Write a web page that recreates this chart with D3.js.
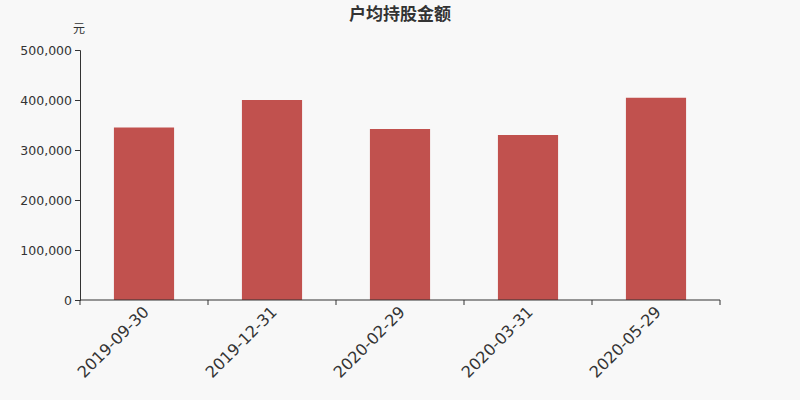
<!DOCTYPE html>
<html>
<head>
<meta charset="utf-8">
<script src="https://cdn.jsdelivr.net/npm/d3@7"></script>
<style>
  body { margin: 0; background: #f8f8f8; }
  svg { display: block; }
</style>
</head>
<body>
<div id="chart"></div>
<script>
const dates = ['2019-09-30', '2019-12-31', '2020-02-29', '2020-03-31', '2020-05-29'];
const amounts = [345000, 400000, 342000, 330000, 404500];
const yTicks = [0, 100000, 200000, 300000, 400000, 500000];

const width = 800;
const height = 400;
const margin = { left: 80, right: 80, top: 50, bottom: 100 };
const fontFamily = '"DejaVu Sans", "Noto Sans CJK SC", sans-serif';

const svg = d3.select('#chart')
  .append('svg')
  .attr('width', width)
  .attr('height', height)
  .style('background', '#f8f8f8')
  .attr('font-family', fontFamily);

const x = d3.scaleBand()
  .domain(dates)
  .range([margin.left, width - margin.right])
  .paddingInner(0.53)
  .paddingOuter(0.265);

const y = d3.scaleLinear()
  .domain([0, 500000])
  .range([height - margin.bottom, margin.top]);

// title
svg.append('text')
  .attr('x', width / 2)
  .attr('y', 20)
  .attr('text-anchor', 'middle')
  .attr('font-size', 17)
  .attr('font-weight', 'bold')
  .attr('fill', '#333')
  .text('户均持股金额');

// unit
svg.append('text')
  .attr('x', 79)
  .attr('y', 33)
  .attr('text-anchor', 'middle')
  .attr('font-size', 12)
  .attr('fill', '#333')
  .text('元');

// bars
svg.append('g')
  .selectAll('rect')
  .data(dates)
  .join('rect')
    .attr('x', d => x(d))
    .attr('width', x.bandwidth())
    .attr('y', (d, i) => y(amounts[i]))
    .attr('height', (d, i) => y(0) - y(amounts[i]))
    .attr('fill', '#c1514e');

// y axis
const yAxis = svg.append('g')
  .attr('transform', `translate(${margin.left},0)`)
  .call(d3.axisLeft(y).tickValues(yTicks).tickFormat(d3.format(',')).tickSizeOuter(0).tickSize(5).tickPadding(3));
yAxis.select('.domain').attr('stroke', '#333');
yAxis.selectAll('.tick line').attr('stroke', '#333');
yAxis.selectAll('text')
  .attr('font-size', 12.5)
  .attr('font-family', fontFamily)
  .attr('fill', '#333');

// x axis, ticks on band edges
const xLine = svg.append('g')
  .attr('transform', `translate(0,${y(0)})`);
xLine.append('line')
  .attr('x1', margin.left)
  .attr('x2', width - margin.right)
  .attr('stroke', '#333');
const edgeX = dates.map((d, i) => margin.left + i * x.step()).concat([width - margin.right]);
xLine.selectAll('.edge')
  .data(edgeX)
  .join('line')
    .attr('class', 'edge')
    .attr('x1', d => d)
    .attr('x2', d => d)
    .attr('y1', 0)
    .attr('y2', 5)
    .attr('stroke', '#333');

xLine.selectAll('.label')
  .data(dates)
  .join('text')
    .attr('class', 'label')
    .attr('transform', d => `translate(${x(d) + x.bandwidth() / 2 - 2},${5}) rotate(-45)`)
    .attr('text-anchor', 'end')
    .attr('dy', '0.71em')
    .attr('font-size', 16)
    .attr('fill', '#333')
    .text(d => d);
</script>
</body>
</html>
